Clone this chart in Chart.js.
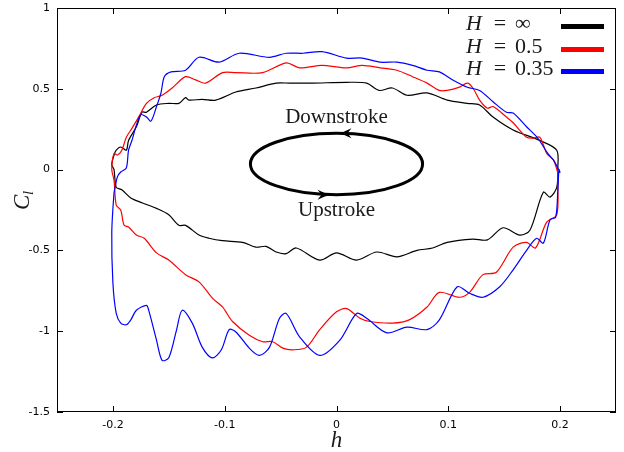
<!DOCTYPE html>
<html>
<head>
<meta charset="utf-8">
<script src="https://cdn.jsdelivr.net/npm/chart.js@4"></script>
<style>
  html, body { margin: 0; padding: 0; background: #fff; }
  canvas { display: block; }
</style>
</head>
<body>
<canvas id="clChart" width="624" height="452"></canvas>
<script>
// ---- axis ticks ----
const xTicks = [-0.2, -0.1, 0, 0.1, 0.2];
const xTickLabels = ['-0.2', '-0.1', '0', '0.1', '0.2'];
const yTicks = [-1.5, -1, -0.5, 0, 0.5, 1];
const yTickLabels = ['-1.5', '-1', '-0.5', '0', '0.5', '1'];

// ---- series labels ----
const seriesNames = ['∞', '0.5', '0.35'];

// ---- H = inf (black) : upper branch right->left, then lower branch left->right ----
const hInf = [0.198, 0.197, 0.182, 0.158, 0.140, 0.128, 0.117, 0.099, 0.081, 0.063,
  0.050, 0.038, 0.027, 0.009, -0.022, -0.042, -0.054, -0.072, -0.090, -0.108,
  -0.120, -0.132, -0.135, -0.141, -0.150, -0.161, -0.170, -0.174, -0.179, -0.186,
  -0.188, -0.193, -0.197, -0.199, -0.201,
  -0.199, -0.197, -0.192, -0.184, -0.174, -0.161, -0.150, -0.141, -0.135, -0.123,
  -0.114, -0.102, -0.084, -0.072, -0.063, -0.054, -0.045, -0.036, -0.015, 0.000,
  0.018, 0.036, 0.054, 0.072, 0.086, 0.099, 0.122, 0.135, 0.149, 0.164,
  0.173, 0.185, 0.191, 0.197, 0.198];
const clInf = [0.00, 0.12, 0.18, 0.245, 0.325, 0.40, 0.41, 0.43, 0.475, 0.46,
  0.505, 0.49, 0.535, 0.54, 0.535, 0.535, 0.535, 0.505, 0.48, 0.43,
  0.435, 0.43, 0.445, 0.41, 0.41, 0.40, 0.355, 0.355, 0.265, 0.18,
  0.12, 0.14, 0.12, 0.09, 0.03,
  0.00, -0.11, -0.125, -0.175, -0.205, -0.24, -0.28, -0.345, -0.345, -0.405,
  -0.425, -0.44, -0.45, -0.48, -0.475, -0.51, -0.52, -0.485, -0.56, -0.515,
  -0.56, -0.51, -0.54, -0.50, -0.485, -0.45, -0.43, -0.435, -0.36, -0.405,
  -0.375, -0.14, -0.17, -0.11, 0.00];

// ---- H = 0.5 (red) ----
const h05 = [0.198, 0.194, 0.188, 0.182, 0.176, 0.170, 0.158, 0.152, 0.140, 0.135,
  0.128, 0.122, 0.117, 0.110, 0.099, 0.092, 0.081, 0.068, 0.054, 0.039,
  0.023, 0.009, -0.013, -0.033, -0.045, -0.066, -0.090, -0.102, -0.117, -0.126,
  -0.135, -0.147, -0.156, -0.163, -0.170, -0.177, -0.183, -0.188, -0.192, -0.196,
  -0.199, -0.201,
  -0.199, -0.197, -0.193, -0.190, -0.186, -0.179, -0.172, -0.161, -0.150, -0.135,
  -0.123, -0.111, -0.102, -0.093, -0.078, -0.066, -0.057, -0.048, -0.039, -0.027,
  -0.015, 0.000, 0.009, 0.021, 0.030, 0.050, 0.065, 0.081, 0.092, 0.110,
  0.119, 0.131, 0.143, 0.158, 0.170, 0.178, 0.188, 0.197, 0.198];
const cl05 = [-0.02, 0.06, 0.10, 0.20, 0.195, 0.20, 0.29, 0.325, 0.39, 0.38,
  0.43, 0.505, 0.535, 0.51, 0.49, 0.49, 0.535, 0.575, 0.615, 0.63,
  0.645, 0.63, 0.645, 0.63, 0.66, 0.60, 0.60, 0.60, 0.535, 0.555,
  0.575, 0.505, 0.46, 0.445, 0.41, 0.325, 0.255, 0.20, 0.12, 0.09,
  0.10, 0.00,
  -0.065, -0.22, -0.25, -0.345, -0.355, -0.405, -0.425, -0.515, -0.56, -0.65,
  -0.695, -0.795, -0.85, -0.94, -1.025, -1.065, -1.065, -1.105, -1.115, -1.10,
  -0.99, -0.88, -0.86, -0.92, -0.94, -0.95, -0.93, -0.85, -0.76, -0.79,
  -0.76, -0.65, -0.635, -0.48, -0.45, -0.485, -0.325, -0.28, -0.085];

// ---- H = 0.35 (blue) ----
const h035 = [0.200, 0.198, 0.194, 0.189, 0.180, 0.170, 0.158, 0.152, 0.140, 0.128,
  0.117, 0.104, 0.092, 0.081, 0.068, 0.054, 0.039, 0.023, 0.009, -0.013,
  -0.030, -0.045, -0.060, -0.087, -0.105, -0.123, -0.135, -0.148, -0.154, -0.157,
  -0.161, -0.166, -0.170, -0.175, -0.179, -0.183, -0.186, -0.188, -0.193, -0.196,
  -0.198,
  -0.199, -0.201, -0.200, -0.197, -0.193, -0.188, -0.184, -0.179, -0.170, -0.168,
  -0.161, -0.156, -0.150, -0.143, -0.138, -0.129, -0.120, -0.111, -0.103, -0.096,
  -0.090, -0.078, -0.069, -0.060, -0.051, -0.045, -0.033, -0.015, 0.003, 0.018,
  0.027, 0.045, 0.063, 0.081, 0.092, 0.108, 0.119, 0.131, 0.146, 0.158,
  0.170, 0.179, 0.185, 0.191, 0.196, 0.198, 0.199];
const cl035 = [-0.02, 0.01, 0.06, 0.10, 0.195, 0.265, 0.35, 0.355, 0.42, 0.49,
  0.51, 0.555, 0.605, 0.615, 0.645, 0.665, 0.665, 0.69, 0.69, 0.73,
  0.72, 0.72, 0.695, 0.72, 0.665, 0.695, 0.615, 0.605, 0.575, 0.475,
  0.39, 0.30, 0.325, 0.34, 0.275, 0.18, 0.12, 0.01, -0.015, -0.045,
  -0.11,
  -0.145, -0.39, -0.70, -0.89, -0.95, -0.96, -0.93, -0.87, -0.84, -0.87,
  -1.055, -1.18, -1.165, -0.99, -0.87, -0.95, -1.10, -1.165, -1.115, -0.99,
  -1.005, -1.105, -1.15, -1.10, -0.92, -0.89, -1.035, -1.15, -1.055, -0.89,
  -0.92, -1.01, -0.975, -0.99, -0.93, -0.725, -0.765, -0.79, -0.725, -0.62,
  -0.50, -0.425, -0.455, -0.31, -0.295, -0.125, 0.00];

// schematic cycle ellipse (data units)
const cycleCenter = { h: 0, cl: 0.035 };
const cycleRadius = { h: 0.077, cl: 0.19 };

function toLoop(hs, cs) {
    const pts = hs.map((h, i) => ({ x: h, y: cs[i] }));
    pts.push(pts[0]);
    return pts;
}

const serif = '"Liberation Serif", "DejaVu Serif", serif';

// ==================== Frame + inward ticks ====================
const framePlugin = {
    id: 'frame',
    afterDatasetsDraw(chart) {
        const { ctx, chartArea: a, scales } = chart;
        ctx.save();
        ctx.strokeStyle = '#000';
        ctx.lineWidth = 1;
        ctx.strokeRect(a.left + 0.5, a.top + 0.5, a.right - a.left - 1, a.bottom - a.top - 1);
        ctx.beginPath();
        xTicks.forEach(v => {
            const px = Math.round(scales.x.getPixelForValue(v)) + 0.5;
            ctx.moveTo(px, a.bottom); ctx.lineTo(px, a.bottom - 6);
            ctx.moveTo(px, a.top); ctx.lineTo(px, a.top + 6);
        });
        yTicks.forEach(v => {
            const py = Math.round(scales.y.getPixelForValue(v)) + 0.5;
            ctx.moveTo(a.left, py); ctx.lineTo(a.left + 6, py);
            ctx.moveTo(a.right, py); ctx.lineTo(a.right - 6, py);
        });
        ctx.stroke();
        ctx.restore();
    }
};

// ==================== Cycle schematic ====================
function arrowHead(ctx, x, y, dir) {
    // dir = -1 points left, +1 points right
    ctx.beginPath();
    ctx.moveTo(x, y);
    ctx.quadraticCurveTo(x - dir * 8, y - 1, x - dir * 15, y - 5);
    ctx.lineTo(x - dir * 11, y);
    ctx.lineTo(x - dir * 15, y + 5);
    ctx.quadraticCurveTo(x - dir * 8, y + 1, x, y);
    ctx.fill();
}

const cyclePlugin = {
    id: 'cycle',
    afterDatasetsDraw(chart) {
        const { ctx, scales } = chart;
        const cx = scales.x.getPixelForValue(cycleCenter.h);
        const cy = scales.y.getPixelForValue(cycleCenter.cl);
        const rx = scales.x.getPixelForValue(cycleCenter.h + cycleRadius.h) - cx;
        const ry = cy - scales.y.getPixelForValue(cycleCenter.cl + cycleRadius.cl);
        ctx.save();
        ctx.strokeStyle = '#000';
        ctx.fillStyle = '#000';
        ctx.lineWidth = 3;
        ctx.beginPath();
        ctx.ellipse(cx, cy, rx, ry, 0, 0, Math.PI * 2);
        ctx.stroke();
        arrowHead(ctx, cx, cy - ry, -1);
        arrowHead(ctx, cx - 4, cy + ry, 1);

        ctx.font = '21px ' + serif;
        ctx.textAlign = 'center';
        ctx.textBaseline = 'alphabetic';
        ctx.fillStyle = '#1a1a1a';
        ctx.fillText('Downstroke', cx, scales.y.getPixelForValue(0.288));
        ctx.fillText('Upstroke', cx, scales.y.getPixelForValue(-0.287));
        ctx.restore();
    }
};

// ==================== Legend + axis titles ====================
const labelPlugin = {
    id: 'labels',
    afterDraw(chart) {
        const { ctx, chartArea: a } = chart;
        ctx.save();
        ctx.fillStyle = '#1a1a1a';
        ctx.textBaseline = 'alphabetic';
        const baselines = [30, 53, 75];
        chart.data.datasets.forEach((ds, i) => {
            const b = baselines[i];
            ctx.font = 'italic 22px ' + serif;
            ctx.textAlign = 'left';
            ctx.fillText('H', 466, b);
            ctx.font = '22px ' + serif;
            ctx.textAlign = 'center';
            ctx.fillText('=', 500, b);
            ctx.textAlign = 'left';
            ctx.fillText(seriesNames[i], 515, b);
            ctx.fillStyle = ds.borderColor;
            ctx.fillRect(561, b - 6, 43, 5);
            ctx.fillStyle = '#1a1a1a';
        });

        // x axis title
        ctx.font = 'italic 23px ' + serif;
        ctx.textAlign = 'center';
        ctx.fillText('h', (a.left + a.right) / 2, 447);

        // y axis title C_l
        ctx.translate(29, 201);
        ctx.rotate(-Math.PI / 2);
        ctx.textAlign = 'left';
        ctx.fillText('C', -9, 0);
        ctx.font = 'italic 15px ' + serif;
        ctx.fillText('l', 6, 4);
        ctx.restore();
    }
};

// ==================== Chart ====================
const ctx = document.getElementById('clChart').getContext('2d');
new Chart(ctx, {
    type: 'scatter',
    data: {
        datasets: [
            { label: 'H = ∞', data: toLoop(hInf, clInf), borderColor: '#000000', order: 3 },
            { label: 'H = 0.5', data: toLoop(h05, cl05), borderColor: '#ff0000', order: 2 },
            { label: 'H = 0.35', data: toLoop(h035, cl035), borderColor: '#0000ff', order: 1 }
        ].map(d => Object.assign(d, {
            showLine: true,
            pointRadius: 0,
            borderWidth: 1.2,
            tension: 0.3,
            fill: false
        }))
    },
    options: {
        responsive: false,
        animation: false,
        devicePixelRatio: 1,
        layout: { padding: { top: 8, right: 8, left: 0, bottom: 0 } },
        plugins: {
            legend: { display: false },
            tooltip: { enabled: false }
        },
        scales: {
            x: {
                type: 'linear',
                min: -0.25,
                max: 0.25,
                grid: { display: false, drawTicks: false },
                border: { display: false },
                afterBuildTicks: s => { s.ticks = xTicks.map(v => ({ value: v })); },
                afterFit: s => { s.height = 40; s.paddingLeft = 0; s.paddingRight = 0; },
                ticks: {
                    color: '#000',
                    padding: 7,
                    maxRotation: 0,
                    font: { family: '"DejaVu Sans", sans-serif', size: 11 },
                    callback: v => xTickLabels[xTicks.indexOf(v)]
                }
            },
            y: {
                type: 'linear',
                min: -1.5,
                max: 1,
                grid: { display: false, drawTicks: false },
                border: { display: false },
                afterBuildTicks: s => { s.ticks = yTicks.map(v => ({ value: v })); },
                afterFit: s => { s.width = 57; s.paddingTop = 0; s.paddingBottom = 0; },
                ticks: {
                    color: '#000',
                    padding: 7,
                    font: { family: '"DejaVu Sans", sans-serif', size: 11 },
                    callback: v => yTickLabels[yTicks.indexOf(v)]
                }
            }
        }
    },
    plugins: [framePlugin, cyclePlugin, labelPlugin]
});
</script>
</body>
</html>
